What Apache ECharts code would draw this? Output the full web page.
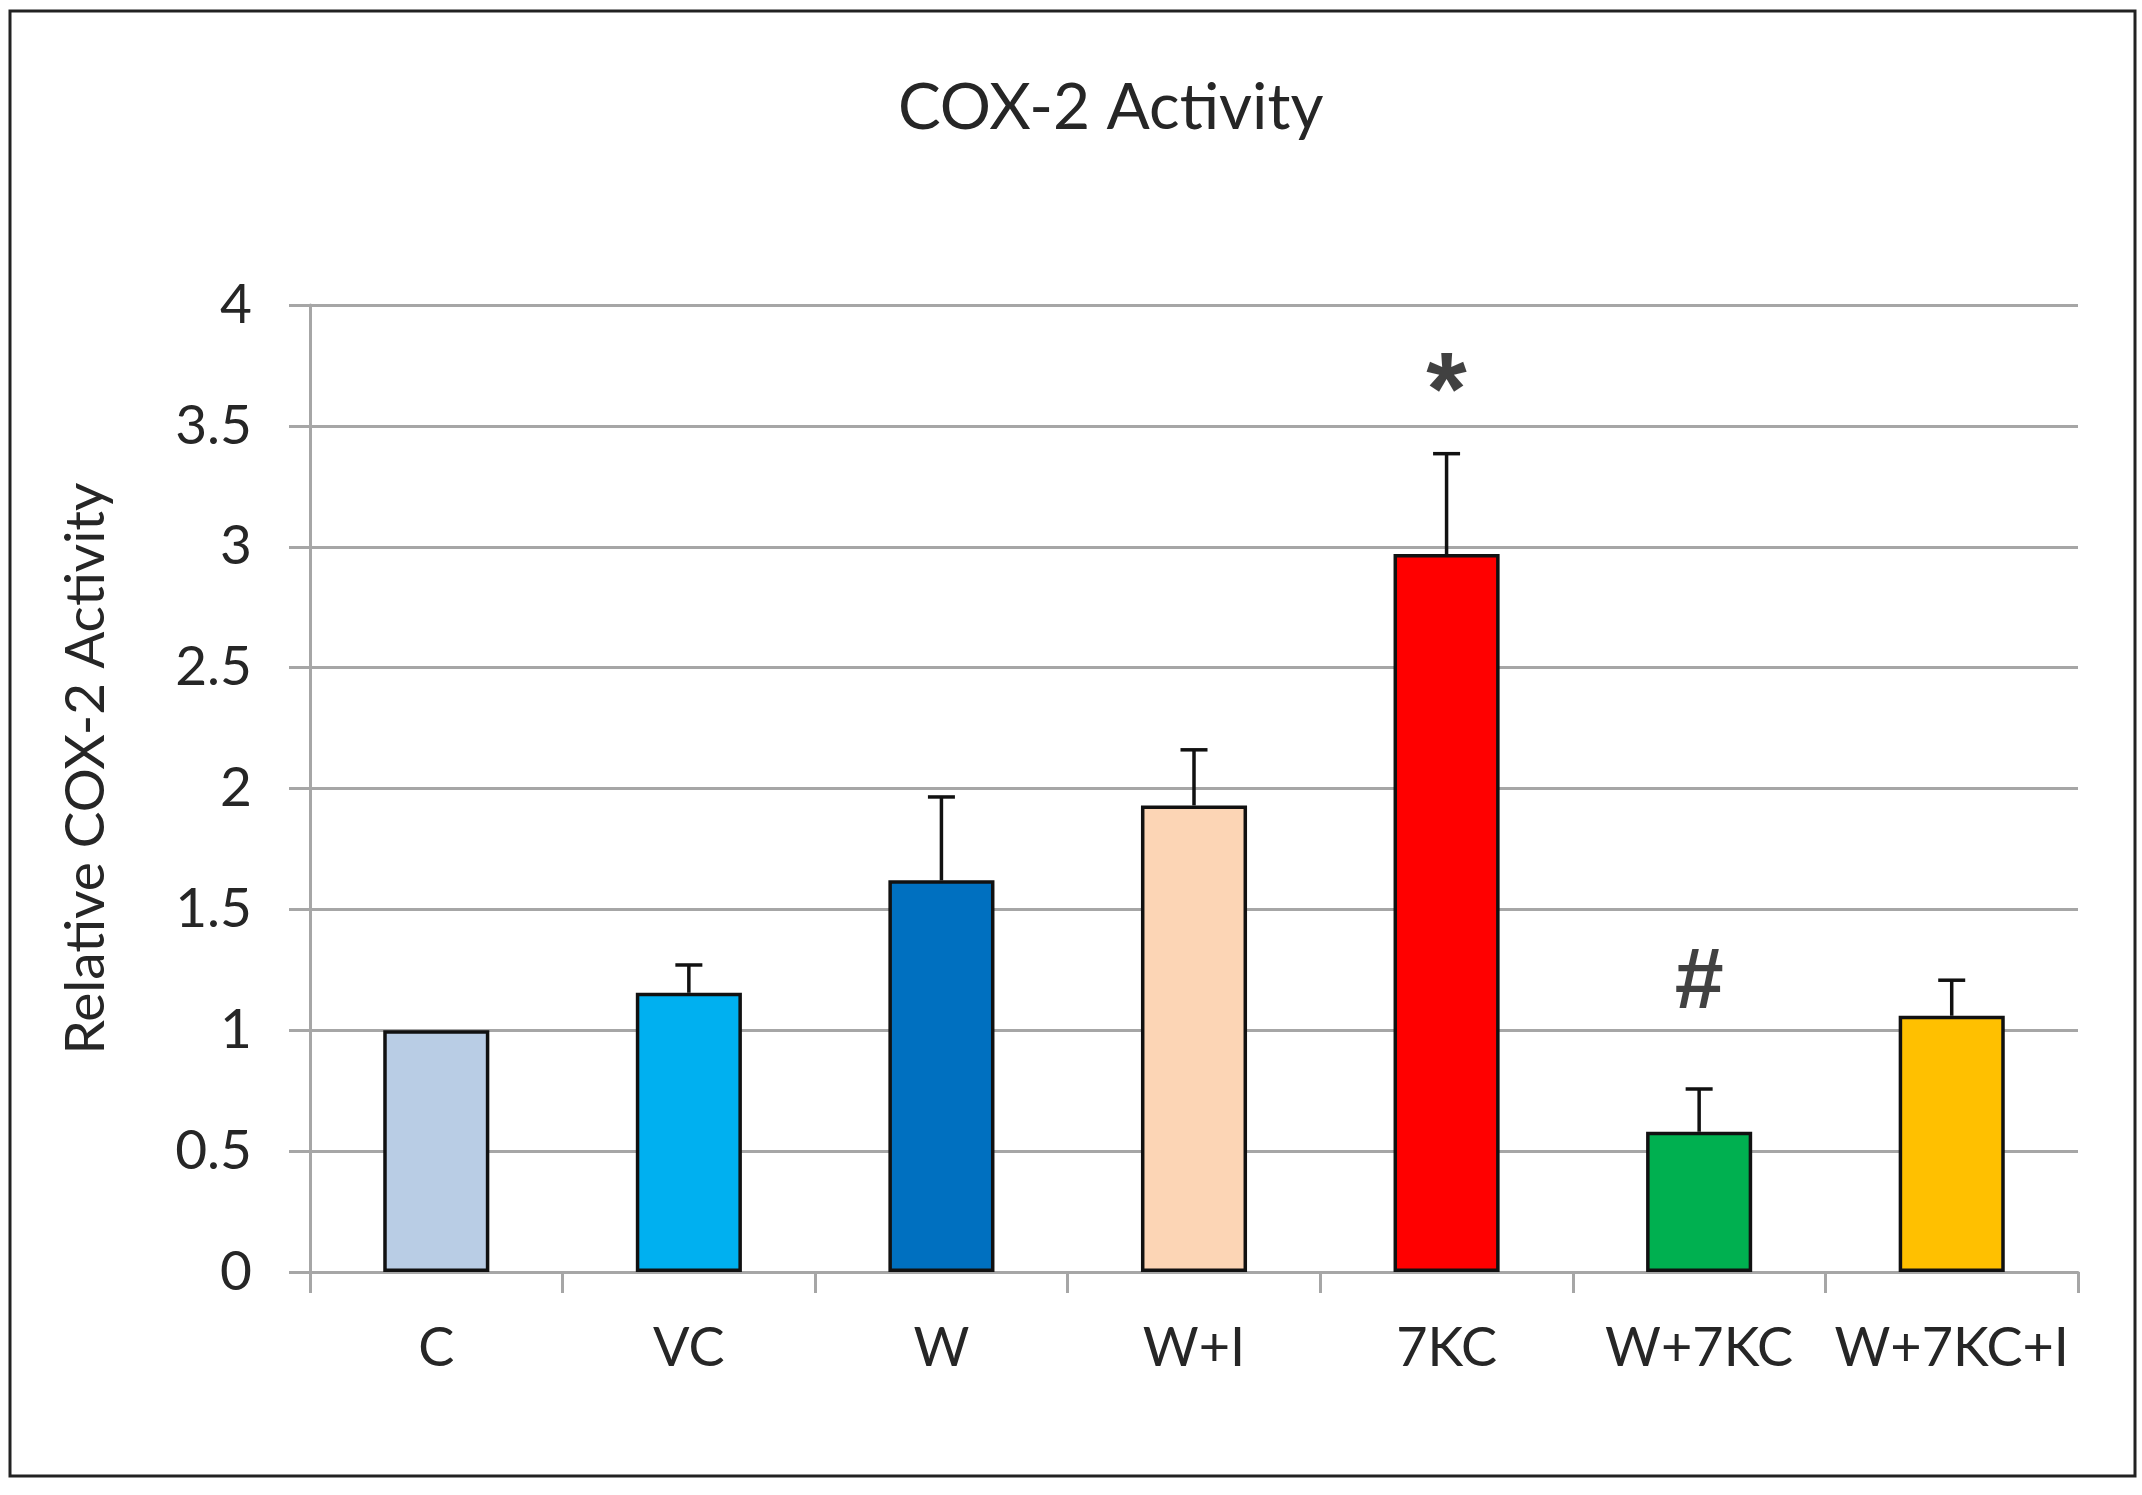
<!DOCTYPE html>
<html>
<head>
<meta charset="utf-8">
<script src="https://cdn.jsdelivr.net/npm/echarts@6/dist/echarts.min.js"></script>
<style>
  html, body { margin: 0; padding: 0; background: #fff; }
  #chart { width: 2142px; height: 1495px; }
</style>
</head>
<body>
<div id="chart"></div>
<script>
// ---- data ----
const categories = ['C', 'VC', 'W', 'W+I', '7KC', 'W+7KC', 'W+7KC+I'];
const values = [1.0, 1.155, 1.62, 1.93, 2.97, 0.58, 1.06];
const errors = [0, 0.115, 0.345, 0.23, 0.415, 0.177, 0.147];
const barColors = ['#B9CDE5', '#00B0F0', '#0070C0', '#FCD5B5', '#FF0000', '#00B050', '#FFC000'];
const markText = ['', '', '', '', '*', '#', ''];
const markValue = [null, null, null, null, 3.73, 1.2, null];
const yTicks = [0, 0.5, 1, 1.5, 2, 2.5, 3, 3.5, 4];

const chart = echarts.init(document.getElementById('chart'), null, { renderer: 'canvas' });
const FONT = 'Lato';
const GRAY = '#A6A6A6';

const markStyle = {
  '*': { fontSize: 104, offset: [0, 26] },
  '#': { fontSize: 88, offset: [0, 2] }
};

const option = {
  backgroundColor: '#ffffff',
  animation: false,
  title: {
    text: 'COX-2 Activity',
    left: 893,
    top: 71,
    textStyle: { fontFamily: FONT, fontSize: 64, fontWeight: 'normal', color: '#262626' }
  },
  graphic: [{
    type: 'rect',
    shape: { x: 10, y: 11, width: 2125, height: 1465 },
    style: { fill: 'none', stroke: '#222', lineWidth: 3 },
    z: 100
  }],
  grid: { left: 310, right: 2142 - 2078, top: 305, bottom: 1495 - 1272 },
  xAxis: {
    type: 'category',
    data: categories,
    axisLine: { lineStyle: { color: GRAY, width: 3 } },
    axisTick: { show: true, interval: 0, length: 21, lineStyle: { color: GRAY, width: 3 } },
    axisLabel: { interval: 0, margin: 50, fontFamily: FONT, fontSize: 54, color: '#262626' }
  },
  yAxis: {
    type: 'value',
    min: 0, max: 4, interval: 0.5,
    name: 'Relative COX-2 Activity',
    nameLocation: 'middle',
    nameGap: 196,
    nameTextStyle: { fontFamily: FONT, fontSize: 55, color: '#262626', padding: [0, 0, 0, 40] },
    axisLine: { show: true, lineStyle: { color: GRAY, width: 3 } },
    axisTick: { show: true, length: 21, lineStyle: { color: GRAY, width: 3 } },
    splitLine: { show: true, lineStyle: { color: GRAY, width: 3 } },
    axisLabel: {
      margin: 58, fontFamily: FONT, fontSize: 55, color: '#262626',
      formatter: v => (yTicks.indexOf(v) >= 0 ? String(v) : '')
    }
  },
  series: [
    {
      type: 'bar',
      barWidth: '42%',
      data: values.map((v, i) => ({
        value: v,
        itemStyle: { color: barColors[i], borderColor: '#111', borderWidth: 3.5 }
      })),
      z: 3
    },
    {
      type: 'custom',
      z: 4,
      data: values.map((v, i) => [i, v, errors[i]]),
      renderItem: function (params, api) {
        const i = api.value(0), v = api.value(1), e = api.value(2);
        if (!e) return null;
        const base = api.coord([i, v]);
        const top = api.coord([i, v + e]);
        const half = 13.5;
        return {
          type: 'group',
          children: [
            { type: 'line', shape: { x1: base[0], y1: base[1], x2: top[0], y2: top[1] },
              style: { stroke: '#111', lineWidth: 3.5 } },
            { type: 'line', shape: { x1: top[0] - half, y1: top[1], x2: top[0] + half, y2: top[1] },
              style: { stroke: '#111', lineWidth: 3.5 } }
          ]
        };
      }
    },
    {
      type: 'scatter',
      symbolSize: 0,
      z: 5,
      data: markValue.map((v, i) => (v === null ? null : {
        value: [i, v],
        label: markStyle[markText[i]]
      })),
      label: {
        show: true,
        position: 'inside',
        formatter: p => markText[p.dataIndex],
        fontFamily: 'Liberation Sans',
        fontWeight: 'bold',
        fontSize: 88,
        color: '#111'
      }
    }
  ]
};
chart.setOption(option);
</script>
</body>
</html>
